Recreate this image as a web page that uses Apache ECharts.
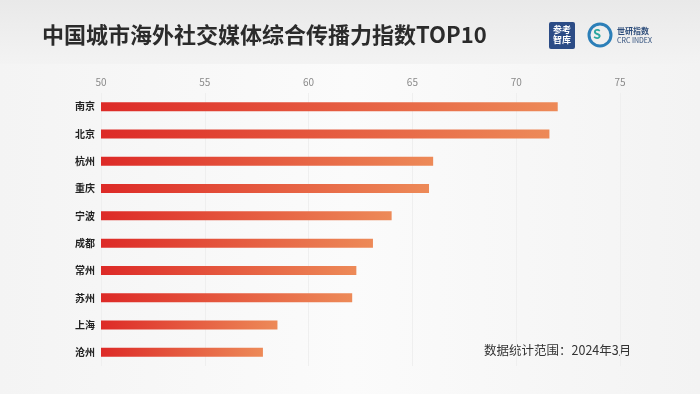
<!DOCTYPE html>
<html><head><meta charset="utf-8">
<script src="https://cdn.jsdelivr.net/npm/echarts@6/dist/echarts.min.js"></script>
<style>html,body{margin:0;padding:0;background:#f6f6f6}#c{width:700px;height:394px}</style>
</head><body><div id="c"></div>
<script>
const cities = ['南京','北京','杭州','重庆','宁波','成都','常州','苏州','上海','沧州'];
const values = [72.0, 71.6, 66.0, 65.8, 64.0, 63.1, 62.3, 62.1, 58.5, 57.8];
const xTicks = [50, 55, 60, 65, 70, 75];
const titleText = '中国城市海外社交媒体综合传播力指数TOP10';
const noteText = '数据统计范围：2024年3月';

const chart = echarts.init(document.getElementById('c'));
const font = '"Noto Sans CJK SC", "Noto Sans", sans-serif';
chart.setOption({
  backgroundColor: '#f6f6f6',
  animation: false,
  graphic: [
    {type:'rect', z:-10, shape:{x:0,y:0,width:700,height:64},
     style:{fill:new echarts.graphic.LinearGradient(0,0,0,1,[{offset:0,color:'#e9e9e9'},{offset:1,color:'#f3f3f3'}])}},
    {type:'rect', z:-10, shape:{x:0,y:64,width:700,height:330},
     style:{fill:new echarts.graphic.LinearGradient(0,0,1,0,[{offset:0,color:'#f4f4f4'},{offset:0.5,color:'#fbfbfb'},{offset:1,color:'#f3f3f3'}])}},
    {type:'rect', shape:{x:549,y:22,width:26,height:27,r:2}, style:{fill:'#2c4c86'}},
    {type:'text', left:553, top:25, style:{text:'参考\n智库', fill:'#ffffff', font:'bold 9px '+font, lineHeight:10}},
    {type:'circle', shape:{cx:600,cy:35,r:11}, style:{fill:'none', stroke:'#2c7fb8', lineWidth:3}},
    {type:'text', left:593, top:28, style:{text:'S', fill:'#2aa7a0', font:'bold 13px '+font}},
    {type:'text', left:617, top:27, style:{text:'世研指数', fill:'#2c4c7a', font:'bold 8px '+font}},
    {type:'text', left:617, top:37, style:{text:'CRC INDEX', fill:'#2c4c7a', font:'7px '+font}},
    {type:'text', left:484, top:344, style:{text:noteText, fill:'#333', font:'12.5px '+font}}
  ],
  title: {
    text: titleText, left: 37, top: 19,
    textStyle: {fontFamily: font, fontSize: 22, fontWeight: 'bold', color: '#2b2b2b'}
  },
  grid: {left: 101, right: 80, top: 93, bottom: 28},
  xAxis: {
    type: 'value', position: 'top', min: 50, max: 75, interval: 5,
    axisLine: {show: false}, axisTick: {show: false},
    axisLabel: {color: '#8a8a8a', fontSize: 10, margin: 6, fontFamily: font,
      formatter: v => xTicks.includes(v) ? String(v) : ''},
    splitLine: {lineStyle: {color: '#efefef', width: 1}}
  },
  yAxis: {
    type: 'category', data: cities, inverse: true,
    axisLine: {show: false}, axisTick: {show: false},
    axisLabel: {color: '#222', fontSize: 10, fontWeight: 'bold', margin: 6, fontFamily: font}
  },
  series: [{
    type: 'bar', data: values, barWidth: 9,
    itemStyle: {color: new echarts.graphic.LinearGradient(0,0,1,0,[{offset:0,color:'#dd2a27'},{offset:1,color:'#ed8a58'}])}
  }]
});
</script></body></html>
